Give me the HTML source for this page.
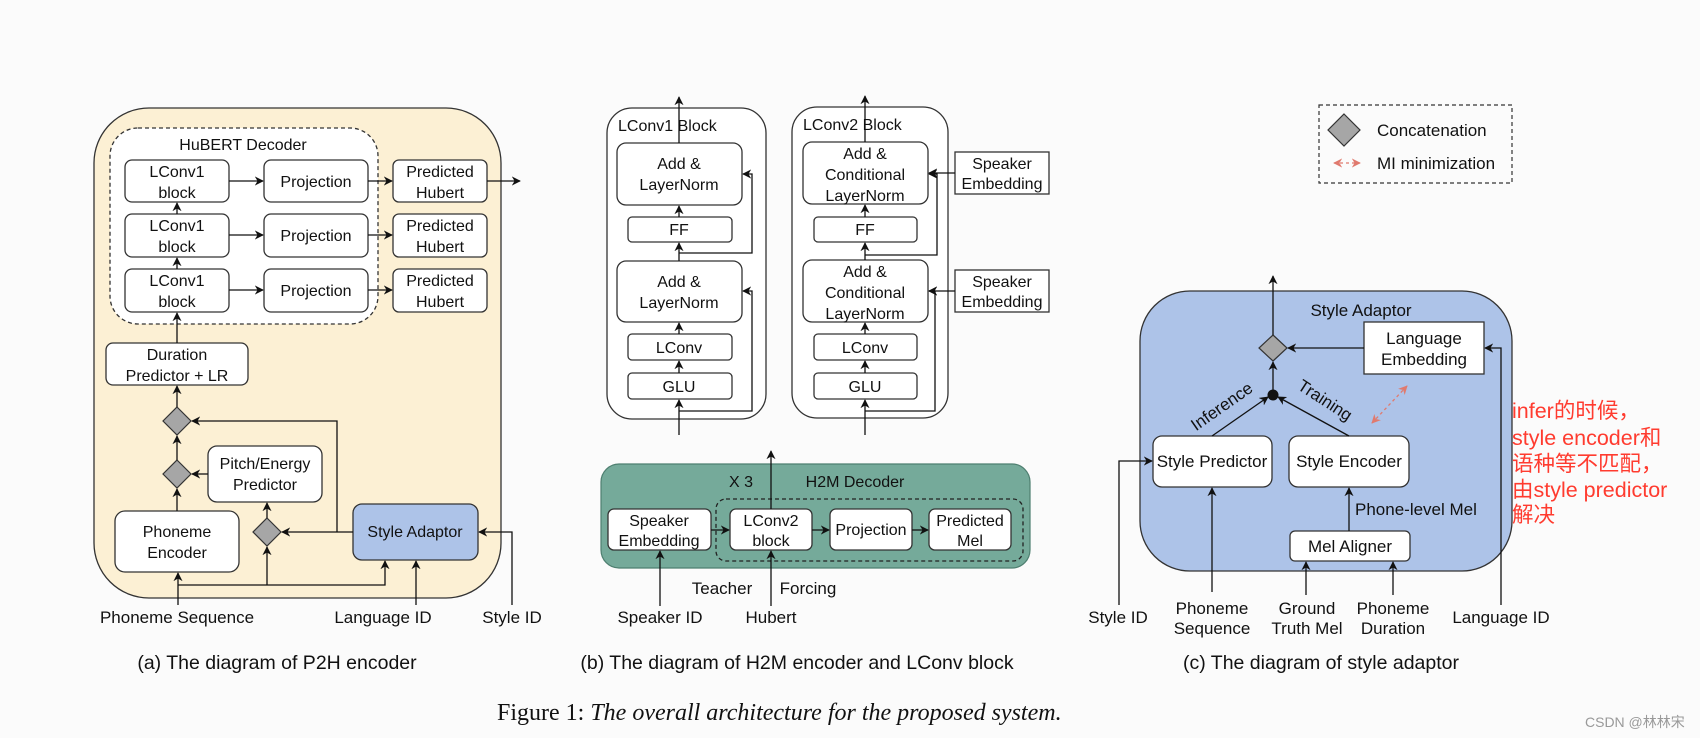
<!DOCTYPE html>
<html><head><meta charset="utf-8"><style>
html,body{margin:0;padding:0;background:#fbfbfb;}
svg{display:block;}
text{font-family:"Liberation Sans",Arial,sans-serif;fill:#111;}
text.red{fill:#ff3b2f;}
</style></head><body>
<svg width="1700" height="738" viewBox="0 0 1700 738" xmlns="http://www.w3.org/2000/svg">
<defs>
<marker id="a" viewBox="0 0 10 10" refX="9" refY="5" markerWidth="7" markerHeight="7" orient="auto-start-reverse"><path d="M0,0 L10,5 L0,10 L3,5 z" fill="#111"/></marker>
<marker id="r" viewBox="0 0 10 10" refX="9" refY="5" markerWidth="7" markerHeight="7" orient="auto-start-reverse"><path d="M0,0 L10,5 L0,10 L3,5 z" fill="#e07a6e"/></marker>
</defs>
<rect width="1700" height="738" fill="#fbfbfb"/>

<!-- ===== Panel (a) ===== -->
<rect x="94" y="108" width="407" height="490" rx="55" fill="#fcf0d4" stroke="#333" stroke-width="1.3"/>
<rect x="110" y="128" width="268" height="196" rx="28" fill="#fff" stroke="#333" stroke-width="1.3" stroke-dasharray="4,3"/>
<text x="243" y="150" font-size="16" text-anchor="middle">HuBERT Decoder</text>
<g fill="#fff" stroke="#333" stroke-width="1.3">
<rect x="125" y="160" width="104" height="42" rx="7"/>
<rect x="125" y="214" width="104" height="43" rx="7"/>
<rect x="125" y="269" width="104" height="43" rx="7"/>
<rect x="264" y="160" width="104" height="42" rx="7"/>
<rect x="264" y="214" width="104" height="43" rx="7"/>
<rect x="264" y="269" width="104" height="43" rx="7"/>
<rect x="393" y="160" width="94" height="42" rx="6"/>
<rect x="393" y="214" width="94" height="43" rx="6"/>
<rect x="393" y="269" width="94" height="43" rx="6"/>
<rect x="106" y="343" width="142" height="42" rx="7"/>
<rect x="208" y="446" width="114" height="56" rx="9"/>
<rect x="115" y="511" width="124" height="61" rx="10"/>
</g>
<rect x="353" y="504" width="125" height="56" rx="9" fill="#adc3e8" stroke="#333" stroke-width="1.3"/>
<g font-size="16" text-anchor="middle">
<text x="177" y="177">LConv1</text><text x="177" y="198">block</text>
<text x="177" y="231">LConv1</text><text x="177" y="252">block</text>
<text x="177" y="286">LConv1</text><text x="177" y="307">block</text>
<text x="316" y="187">Projection</text>
<text x="316" y="241">Projection</text>
<text x="316" y="296">Projection</text>
<text x="440" y="177">Predicted</text><text x="440" y="198">Hubert</text>
<text x="440" y="231">Predicted</text><text x="440" y="252">Hubert</text>
<text x="440" y="286">Predicted</text><text x="440" y="307">Hubert</text>
<text x="177" y="360">Duration</text><text x="177" y="381">Predictor + LR</text>
<text x="265" y="469">Pitch/Energy</text><text x="265" y="490">Predictor</text>
<text x="177" y="537">Phoneme</text><text x="177" y="558">Encoder</text>
<text x="415" y="537">Style Adaptor</text>
</g>
<g fill="#a6a6a6" stroke="#333" stroke-width="1.2">
<path d="M177,407 L191,421 L177,435 L163,421 z"/>
<path d="M177,460 L191,474 L177,488 L163,474 z"/>
<path d="M267,518 L281,532 L267,546 L253,532 z"/>
</g>
<g stroke="#111" stroke-width="1.3" fill="none" marker-end="url(#a)">
<line x1="177" y1="269" x2="177" y2="258"/>
<line x1="177" y1="214" x2="177" y2="203"/>
<line x1="229" y1="181" x2="263" y2="181"/>
<line x1="229" y1="235" x2="263" y2="235"/>
<line x1="229" y1="290" x2="263" y2="290"/>
<line x1="368" y1="181" x2="392" y2="181"/>
<line x1="368" y1="235" x2="392" y2="235"/>
<line x1="368" y1="290" x2="392" y2="290"/>
<line x1="487" y1="181" x2="520" y2="181"/>
<line x1="177" y1="343" x2="177" y2="313"/>
<line x1="177" y1="407" x2="177" y2="386"/>
<line x1="177" y1="460" x2="177" y2="436"/>
<line x1="177" y1="511" x2="177" y2="489"/>
<line x1="208" y1="474" x2="192" y2="474"/>
<line x1="267" y1="518" x2="267" y2="503"/>
<line x1="353" y1="532" x2="282" y2="532"/>
<polyline points="337,532 337,421 192,421"/>
<line x1="178" y1="605" x2="178" y2="573"/>
<line x1="267" y1="585" x2="267" y2="547"/>
<polyline points="178,585 385,585 385,561"/>
<line x1="416" y1="605" x2="416" y2="561"/>
<polyline points="512,605 512,532 479,532"/>
</g>
<g font-size="17" text-anchor="middle">
<text x="177" y="623">Phoneme Sequence</text>
<text x="383" y="623">Language ID</text>
<text x="512" y="623">Style ID</text>
</g>
<text x="277" y="669" font-size="19.5" text-anchor="middle">(a) The diagram of P2H encoder</text>

<!-- ===== Panel (b) LConv blocks ===== -->
<rect x="607" y="108" width="159" height="311" rx="25" fill="#fff" stroke="#333" stroke-width="1.3"/>
<rect x="792" y="107" width="156" height="311" rx="25" fill="#fff" stroke="#333" stroke-width="1.3"/>
<g fill="#fff" stroke="#333" stroke-width="1.3">
<rect x="617" y="143" width="125" height="62" rx="9"/>
<rect x="628" y="217" width="104" height="25" rx="4"/>
<rect x="617" y="261" width="125" height="61" rx="9"/>
<rect x="628" y="334" width="104" height="26" rx="4"/>
<rect x="628" y="373" width="104" height="26" rx="4"/>
<rect x="803" y="142" width="125" height="62" rx="9"/>
<rect x="814" y="217" width="103" height="25" rx="4"/>
<rect x="803" y="260" width="125" height="62" rx="9"/>
<rect x="814" y="334" width="103" height="26" rx="4"/>
<rect x="814" y="373" width="103" height="26" rx="4"/>
<rect x="955" y="152" width="94" height="42"/>
<rect x="955" y="270" width="94" height="42"/>
</g>
<text x="618" y="131" font-size="16">LConv1 Block</text>
<text x="803" y="130" font-size="16">LConv2 Block</text>
<g font-size="16" text-anchor="middle">
<text x="679" y="169">Add &amp;</text><text x="679" y="190">LayerNorm</text>
<text x="679" y="235">FF</text>
<text x="679" y="287">Add &amp;</text><text x="679" y="308">LayerNorm</text>
<text x="679" y="353">LConv</text>
<text x="679" y="392">GLU</text>
<text x="865" y="159">Add &amp;</text><text x="865" y="180">Conditional</text><text x="865" y="201">LayerNorm</text>
<text x="865" y="235">FF</text>
<text x="865" y="277">Add &amp;</text><text x="865" y="298">Conditional</text><text x="865" y="319">LayerNorm</text>
<text x="865" y="353">LConv</text>
<text x="865" y="392">GLU</text>
<text x="1002" y="169">Speaker</text><text x="1002" y="189">Embedding</text>
<text x="1002" y="287">Speaker</text><text x="1002" y="307">Embedding</text>
</g>
<g stroke="#111" stroke-width="1.3" fill="none" marker-end="url(#a)">
<line x1="679" y1="435" x2="679" y2="400"/>
<line x1="679" y1="373" x2="679" y2="361"/>
<line x1="679" y1="334" x2="679" y2="323"/>
<line x1="679" y1="261" x2="679" y2="243"/>
<line x1="679" y1="217" x2="679" y2="206"/>
<line x1="679" y1="143" x2="679" y2="97"/>
<polyline points="679,411 752,411 752,291 743,291"/>
<polyline points="679,253 752,253 752,174 743,174"/>
<line x1="865" y1="435" x2="865" y2="400"/>
<line x1="865" y1="373" x2="865" y2="361"/>
<line x1="865" y1="334" x2="865" y2="323"/>
<line x1="865" y1="260" x2="865" y2="243"/>
<line x1="865" y1="217" x2="865" y2="205"/>
<line x1="865" y1="142" x2="865" y2="96"/>
<polyline points="865,411 935,411 935,291 929,291"/>
<polyline points="865,255 937,255 937,174 929,174"/>
<line x1="955" y1="173" x2="929" y2="173"/>
<line x1="955" y1="291" x2="929" y2="291"/>
</g>

<!-- ===== H2M Decoder ===== -->
<rect x="601" y="464" width="429" height="104" rx="18" fill="#75aa9a" stroke="#4e7f70" stroke-width="1.2"/>
<rect x="716" y="499" width="307" height="62" rx="10" fill="none" stroke="#222" stroke-width="1.3" stroke-dasharray="4,3"/>
<g fill="#fff" stroke="#333" stroke-width="1.3">
<rect x="608" y="509" width="103" height="41" rx="6"/>
<rect x="730" y="509" width="82" height="41" rx="6"/>
<rect x="830" y="509" width="82" height="41" rx="6"/>
<rect x="929" y="509" width="82" height="41" rx="6"/>
</g>
<g font-size="16" text-anchor="middle">
<text x="741" y="487">X 3</text>
<text x="855" y="487">H2M Decoder</text>
<text x="659" y="526">Speaker</text><text x="659" y="546">Embedding</text>
<text x="771" y="526">LConv2</text><text x="771" y="546">block</text>
<text x="871" y="535">Projection</text>
<text x="970" y="526">Predicted</text><text x="970" y="546">Mel</text>
</g>
<g stroke="#111" stroke-width="1.3" fill="none" marker-end="url(#a)">
<line x1="771" y1="509" x2="771" y2="451"/>
<line x1="711" y1="530" x2="729" y2="530"/>
<line x1="812" y1="530" x2="829" y2="530"/>
<line x1="912" y1="530" x2="928" y2="530"/>
<line x1="660" y1="606" x2="660" y2="551"/>
<line x1="771" y1="606" x2="771" y2="551"/>
</g>
<g font-size="17" text-anchor="middle">
<text x="722" y="594">Teacher</text>
<text x="808" y="594">Forcing</text>
<text x="660" y="623">Speaker ID</text>
<text x="771" y="623">Hubert</text>
</g>
<text x="797" y="669" font-size="19.5" text-anchor="middle">(b) The diagram of H2M encoder and LConv block</text>

<!-- ===== Legend ===== -->
<rect x="1319" y="105" width="193" height="78" fill="none" stroke="#333" stroke-width="1.2" stroke-dasharray="4,3"/>
<path d="M1344,114 L1360,130 L1344,146 L1328,130 z" fill="#a6a6a6" stroke="#333" stroke-width="1.2"/>
<text x="1377" y="136" font-size="17">Concatenation</text>
<line x1="1334" y1="163" x2="1360" y2="163" stroke="#e07a6e" stroke-width="1.3" stroke-dasharray="3,3" marker-start="url(#r)" marker-end="url(#r)"/>
<text x="1377" y="169" font-size="17">MI minimization</text>

<!-- ===== Panel (c) ===== -->
<rect x="1140" y="291" width="372" height="280" rx="50" fill="#adc3e8" stroke="#333" stroke-width="1.3"/>
<text x="1361" y="316" font-size="17" text-anchor="middle">Style Adaptor</text>
<rect x="1364" y="322" width="120" height="52" fill="#fff" stroke="#333" stroke-width="1.3"/>
<text x="1424" y="344" font-size="17" text-anchor="middle">Language</text>
<text x="1424" y="365" font-size="17" text-anchor="middle">Embedding</text>
<g fill="#fff" stroke="#333" stroke-width="1.3">
<rect x="1153" y="436" width="119" height="51" rx="9"/>
<rect x="1289" y="436" width="120" height="51" rx="9"/>
<rect x="1290" y="531" width="120" height="30" rx="5"/>
</g>
<g font-size="17" text-anchor="middle">
<text x="1212" y="467">Style Predictor</text>
<text x="1349" y="467">Style Encoder</text>
<text x="1350" y="552">Mel Aligner</text>
</g>
<text x="1355" y="515" font-size="17">Phone-level Mel</text>
<path d="M1273,335 L1287,348 L1273,361 L1259,348 z" fill="#a6a6a6" stroke="#333" stroke-width="1.2"/>
<circle cx="1273" cy="395" r="5.5" fill="#111"/>
<g stroke="#111" stroke-width="1.3" fill="none" marker-end="url(#a)">
<line x1="1273" y1="335" x2="1273" y2="276"/>
<line x1="1364" y1="348" x2="1288" y2="348"/>
<line x1="1273" y1="390" x2="1273" y2="362"/>
<line x1="1212" y1="436" x2="1268" y2="397"/>
<line x1="1349" y1="436" x2="1278" y2="397"/>
<line x1="1349" y1="531" x2="1349" y2="488"/>
<polyline points="1119,605 1119,461 1152,461"/>
<line x1="1212" y1="592" x2="1212" y2="488"/>
<line x1="1306" y1="595" x2="1306" y2="562"/>
<line x1="1393" y1="595" x2="1393" y2="562"/>
<polyline points="1501,605 1501,348 1485,348"/>
</g>
<line x1="1407" y1="386" x2="1372" y2="423" stroke="#e07a6e" stroke-width="1.3" stroke-dasharray="3,3" marker-start="url(#r)" marker-end="url(#r)"/>
<text x="1225" y="411" font-size="17" text-anchor="middle" transform="rotate(-35 1225 411)">Inference</text>
<text x="1322" y="405" font-size="17" text-anchor="middle" transform="rotate(33 1322 405)">Training</text>
<g font-size="17" text-anchor="middle">
<text x="1118" y="623">Style ID</text>
<text x="1212" y="614">Phoneme</text><text x="1212" y="634">Sequence</text>
<text x="1307" y="614">Ground</text><text x="1307" y="634">Truth Mel</text>
<text x="1393" y="614">Phoneme</text><text x="1393" y="634">Duration</text>
<text x="1501" y="623">Language ID</text>
</g>
<text x="1321" y="669" font-size="19.5" text-anchor="middle">(c) The diagram of style adaptor</text>
<g font-size="21.5" style="font-family:'Liberation Sans','Noto Sans CJK SC',sans-serif">
<text class="red" x="1512" y="418">infer的时候，</text>
<text class="red" x="1512" y="445">style encoder和</text>
<text class="red" x="1512" y="471">语种等不匹配，</text>
<text class="red" x="1512" y="497">由style predictor</text>
<text class="red" x="1512" y="522">解决</text>
</g>

<!-- Figure caption -->
<text x="497" y="720" font-size="24" style="font-family:'Liberation Serif',serif">Figure 1: <tspan font-style="italic">The overall architecture for the proposed system.</tspan></text>
<text x="1585" y="727" font-size="14" style="font-family:'Liberation Sans','Noto Sans CJK SC',sans-serif;fill:#999">CSDN @林林宋</text>
</svg>
</body></html>
